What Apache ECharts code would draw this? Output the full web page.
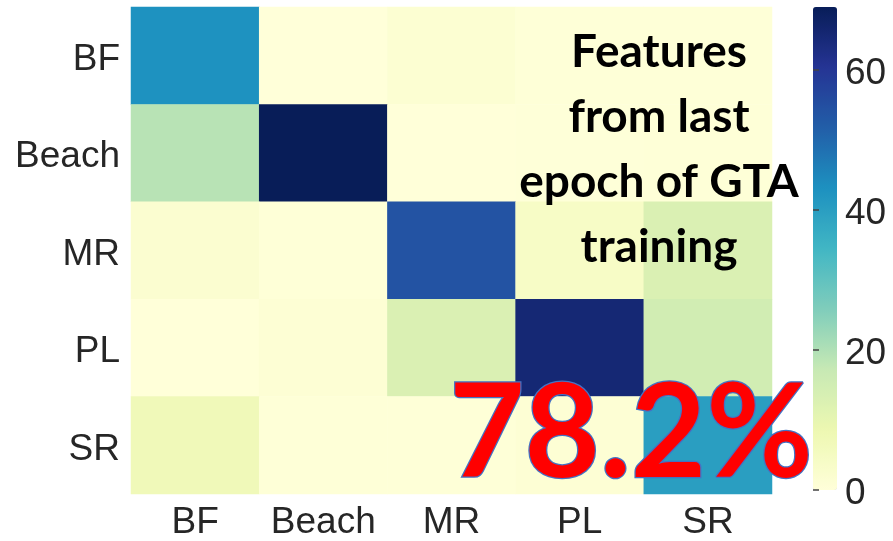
<!DOCTYPE html>
<html>
<head>
<meta charset="utf-8">
<script src="https://cdn.jsdelivr.net/npm/echarts@6/dist/echarts.min.js"></script>
<style>
  html, body { margin: 0; padding: 0; background: #ffffff; }
  #chart { width: 893px; height: 541px; }
</style>
</head>
<body>
<div id="chart"></div>
<script>
// Class labels (rows = true class, columns = predicted class)
const categories = ['BF', 'Beach', 'MR', 'PL', 'SR'];

// Confusion counts, one array per row
const rowBF    = [43, 0, 1.5, 0.5, 0.5];
const rowBeach = [19, 69, 0, 0.3, 0.5];
const rowMR    = [2, 0.5, 54, 4, 13];
const rowPL    = [0, 1, 13, 65, 15];
const rowSR    = [7, 0.5, 0.5, 1, 40];
const rows = [rowBF, rowBeach, rowMR, rowPL, rowSR];

// Colour bar range and ticks
const colorMin = 0;
const colorMax = 69;
const colorTicks = [0, 20, 40, 60];

// YlGnBu colour ramp
const ylGnBu = ['#ffffd9', '#edf8b1', '#c7e9b4', '#7fcdbb', '#41b6c4',
                '#1d91c0', '#225ea8', '#253494', '#081d58'];

const cells = [];
rows.forEach((r, yi) => r.forEach((v, xi) => cells.push([xi, yi, v])));

const labelFont = { fontFamily: 'Liberation Sans, Arial, sans-serif', fontSize: 37, color: '#262626' };
// rich style nudging the text a few pixels down inside its box
const nudged = { t: Object.assign({ padding: [8, 0, 0, 0] }, labelFont) };

const chart = echarts.init(document.getElementById('chart'), null, { renderer: 'canvas' });
chart.setOption({
  animation: false,
  backgroundColor: '#ffffff',
  grid: [
    { left: 131, right: 121, top: 7, bottom: 46 },
    { left: 813, width: 24, top: 7, bottom: 51 }
  ],
  xAxis: [
    {
      type: 'category', data: categories, gridIndex: 0,
      axisLine: { show: false }, axisTick: { show: false }, splitLine: { show: false },
      axisLabel: Object.assign({ margin: 10, interval: 0, hideOverlap: false }, labelFont)
    },
    { type: 'value', gridIndex: 1, show: false, min: 0, max: 1 }
  ],
  yAxis: [
    {
      type: 'category', data: categories, gridIndex: 0, inverse: true,
      axisLine: { show: false }, axisTick: { show: false }, splitLine: { show: false },
      axisLabel: Object.assign({ margin: 11, interval: 0,
        formatter: v => '{t|' + v + '}', rich: nudged }, labelFont)
    },
    {
      type: 'value', gridIndex: 1, position: 'right', min: colorMin, max: colorMax,
      interval: 20,
      axisLine: { show: false },
      splitLine: { show: false },
      axisTick: { show: true, inside: false, length: 6, lineStyle: { color: '#444', width: 1.5 } },
      axisLabel: Object.assign({ margin: 8, showMaxLabel: false, rich: nudged,
        formatter: v => colorTicks.includes(v) ? '{t|' + v + '}' : '' }, labelFont),
      z: 10
    }
  ],
  visualMap: {
    type: 'continuous',
    seriesIndex: 0,
    min: colorMin, max: colorMax,
    calculable: false,
    hoverLink: false,
    orient: 'vertical',
    left: 813, top: 7,
    itemWidth: 24, itemHeight: 483,
    padding: 0,
    text: ['', ''],
    showLabel: false,
    z: 1,
    inRange: { color: ylGnBu }
  },
  series: [
    {
      type: 'heatmap',
      xAxisIndex: 0, yAxisIndex: 0,
      data: cells,
      itemStyle: { borderWidth: 0 },
      emphasis: { disabled: true }
    },
    { type: 'line', xAxisIndex: 1, yAxisIndex: 1, data: [], silent: true }
  ],
  graphic: [
    {
      type: 'text', z: 100,
      x: 659, y: 150,
      style: {
        text: 'Features\nfrom last\nepoch of GTA\ntraining',
        fill: '#000000',
        font: 'bold 46px Lato, "Open Sans", sans-serif',
        lineHeight: 65,
        align: 'center',
        verticalAlign: 'middle'
      }
    },
    {
      type: 'text', z: 101,
      x: 631, y: 435,
      style: {
        text: '78.2%',
        fill: '#ff0000',
        stroke: '#4472c4',
        lineWidth: 2.5,
        font: 'bold 130px Lato, "Open Sans", sans-serif',
        align: 'center',
        verticalAlign: 'middle',
        shadowBlur: 18,
        shadowColor: 'rgba(68,114,196,0.95)'
      }
    }
  ]
});
</script>
</body>
</html>
